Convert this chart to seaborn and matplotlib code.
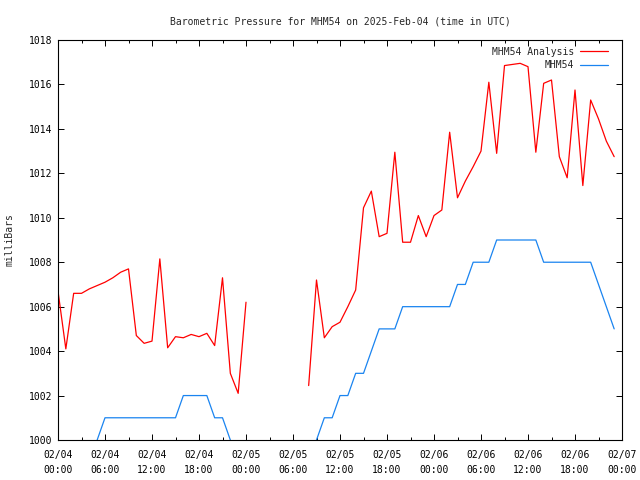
import numpy as np
import pandas as pd
import matplotlib
matplotlib.use("Agg")
import matplotlib.pyplot as plt
import matplotlib.dates as mdates
import seaborn as sns

# hourly values, 2025-02-04 00:00 UTC onwards (None = no data)
analysis_mb = [
    1006.7, 1004.1, 1006.6, 1006.6, 1006.8, 1006.95, 1007.1, 1007.3, 1007.55, 1007.7,
    1004.7, 1004.35, 1004.45, 1008.15, 1004.15, 1004.65, 1004.6, 1004.75, 1004.65, 1004.8,
    1004.25, 1007.3, 1003.0, 1002.1, 1006.2,
    None, None, None, None, None, None, None,
    1002.45, 1007.2, 1004.6, 1005.1, 1005.3, 1006.0, 1006.75, 1010.45, 1011.2, 1009.15,
    1009.3, 1012.95, 1008.9, 1008.9, 1010.1, 1009.15, 1010.1, 1010.35, 1013.85, 1010.9,
    1011.65, 1012.3, 1013.0, 1016.1, 1012.9, 1016.85, 1016.9, 1016.95, 1016.8, 1012.95,
    1016.05, 1016.2, 1012.75, 1011.8, 1015.75, 1011.45, 1015.3, 1014.45, 1013.45, 1012.75,
]
station_mb = [
    999, 999, 999, 999, 999, 1000, 1001, 1001, 1001, 1001,
    1001, 1001, 1001, 1001, 1001, 1001, 1002, 1002, 1002, 1002,
    1001, 1001, 1000, 999, 999,
    None, None, None, None, None, None, None,
    999, 1000, 1001, 1001, 1002, 1002, 1003, 1003, 1004, 1005,
    1005, 1005, 1006, 1006, 1006, 1006, 1006, 1006, 1006, 1007,
    1007, 1008, 1008, 1008, 1009, 1009, 1009, 1009, 1009, 1009,
    1008, 1008, 1008, 1008, 1008, 1008, 1008, 1007, 1006, 1005,
]
times = pd.date_range("2025-02-04 00:00", periods=len(analysis_mb), freq="h")

df = pd.DataFrame({
    "time": times,
    "analysis": pd.to_numeric(pd.Series(analysis_mb), errors="coerce"),
    "station": pd.to_numeric(pd.Series(station_mb), errors="coerce"),
})
# seaborn drops NaN rows, so split into segments to keep the data gap
df["seg_a"] = df["analysis"].isna().cumsum()
df["seg_s"] = df["station"].isna().cumsum()

sns.set_style("ticks")
plt.rcParams["font.family"] = ["DejaVu Sans Mono"]
plt.rcParams["font.size"] = 7

fig = plt.figure(figsize=(6.4, 4.8), dpi=100)
ax = fig.add_axes([58 / 640, 40 / 480, 564 / 640, 400 / 480])

sns.lineplot(data=df, x="time", y="analysis", units="seg_a", estimator=None,
             color="#ff0000", linewidth=0.9, label="MHM54 Analysis", ax=ax)
sns.lineplot(data=df, x="time", y="station", units="seg_s", estimator=None,
             color="#1a84f0", linewidth=0.9, label="MHM54", ax=ax)

ax.set_xlim(pd.Timestamp("2025-02-04 00:00"), pd.Timestamp("2025-02-07 00:00"))
ax.set_ylim(1000, 1018)
ax.set_yticks(np.arange(1000, 1019, 2))
ax.xaxis.set_major_locator(mdates.HourLocator(byhour=range(0, 24, 6)))
ax.xaxis.set_minor_locator(mdates.HourLocator(byhour=range(0, 24, 3)))
ax.xaxis.set_major_formatter(mdates.DateFormatter("%m/%d\n%H:%M"))

for side in ["top", "right", "left", "bottom"]:
    ax.spines[side].set_visible(True)
    ax.spines[side].set_color("black")
    ax.spines[side].set_linewidth(0.8)
ax.tick_params(which="both", direction="in", top=True, right=True, color="black",
               labelsize=7, labelcolor="black")
ax.tick_params(which="major", length=4.5, width=0.7)
ax.tick_params(which="minor", length=2.5, width=0.7)
ax.tick_params(axis="x", which="major", pad=7)
ax.tick_params(axis="y", which="major", pad=4)
for t in ax.xaxis.get_major_ticks():
    t.label1.set_linespacing(1.6)

ax.set_xlabel("")
ax.set_ylabel("milliBars", fontsize=7)
ax.yaxis.set_label_coords(-0.077, 0.5)
ax.set_title("Barometric Pressure for MHM54 on 2025-Feb-04 (time in UTC)", fontsize=7, pad=11)

# one legend entry per series (units split gives several lines each)
handles, labels = ax.get_legend_handles_labels()
seen = {}
for h, l in zip(handles, labels):
    if l not in seen:
        seen[l] = h
ax.legend(list(seen.values()), list(seen.keys()),
          loc="upper right", bbox_to_anchor=(0.975, 0.983), frameon=False, markerfirst=False,
          borderpad=0, borderaxespad=0, handlelength=2.9, handletextpad=0.6,
          labelspacing=0.35, fontsize=7)

fig.savefig("out.png", dpi=100)
